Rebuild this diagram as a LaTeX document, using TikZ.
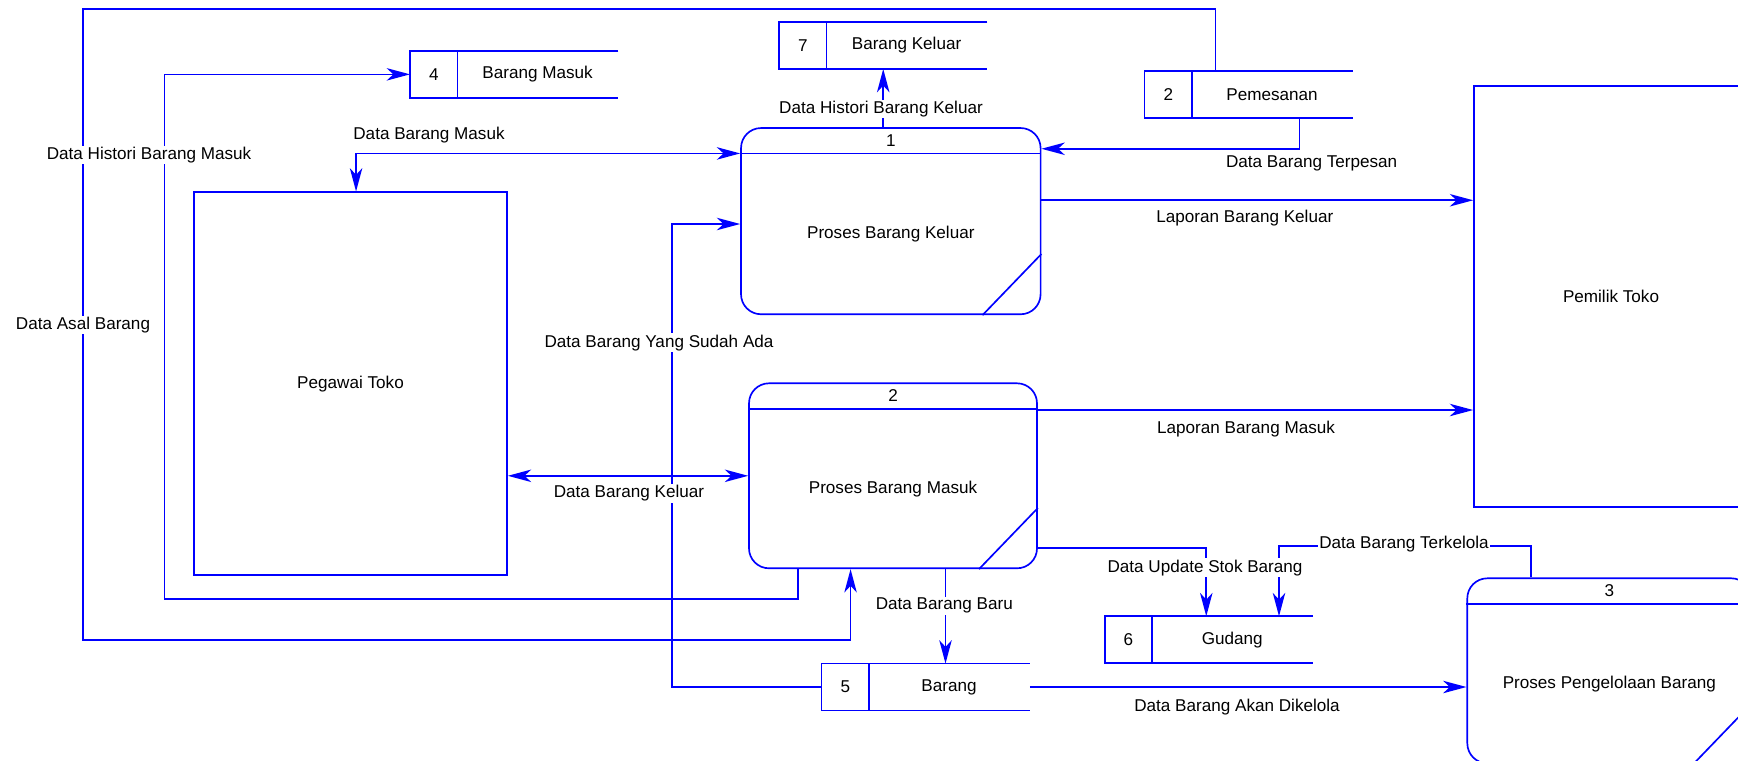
\documentclass[tikz,border=0pt]{standalone}
\usepackage{fontspec}
\setmainfont{Liberation Sans}
\usetikzlibrary{arrows.meta}
\definecolor{dfdblue}{RGB}{0,0,255}
\tikzset{
  edge/.style={dfdblue, line width=0.75pt},
  flow/.style={edge, -{Stealth[length=10.5pt,width=5.6pt,inset=3pt]}},
  bothflow/.style={edge, {Stealth[length=10.5pt,width=5.6pt,inset=3pt]}-{Stealth[length=10.5pt,width=5.6pt,inset=3pt]}},
  entity/.style={draw=dfdblue, line width=0.75pt, rectangle, inner sep=0pt},
  proc/.style={draw=dfdblue, line width=0.75pt, rounded corners=9pt, rectangle, inner sep=0pt},
  store/.style={rectangle, minimum width=93.4pt, minimum height=20.7pt, anchor=west, inner sep=0pt},
  lbl/.style={fill=white, inner sep=0.6pt},
}
\begin{document}
\begin{tikzpicture}[x=0.45pt, y=-0.45pt, font=\fontsize{7.7}{9}\selectfont]
\useasboundingbox (0,0) rectangle (1738,760);
\clip (0,0) rectangle (1738,760);

% external entities
\node[entity, minimum width=140.85pt, minimum height=172.2pt] (peg) at (350.5,383.65) {Pegawai Toko};
\node[entity, minimum width=123.3pt, minimum height=189.7pt] (pem) at (1611,296.5) {Pemilik Toko};

% processes
\node[proc, minimum width=134.8pt, minimum height=83.8pt] (p1) at (890.8,221.15) {};
\draw[edge] ([yshift=-11.8pt]p1.north west) -- ([yshift=-11.8pt]p1.north east);
\draw[edge] ([yshift=27.5pt]p1.south east) -- ([xshift=-26.5pt]p1.south east);
\node (p1n) at ([yshift=-6pt]p1.north) {1};
\node (p1t) at ([yshift=-6pt]p1.center) {Proses Barang Keluar};

\node[proc, minimum width=129.6pt, minimum height=83.25pt] (p2) at (893,475.8) {};
\draw[edge] ([yshift=-11.8pt]p2.north west) -- ([yshift=-11.8pt]p2.north east);
\draw[edge] ([yshift=27.5pt]p2.south east) -- ([xshift=-26.5pt]p2.south east);
\node (p2n) at ([yshift=-6pt]p2.north) {2};
\node (p2t) at ([yshift=-6pt]p2.center) {Proses Barang Masuk};

\node[proc, minimum width=127.8pt, minimum height=83.25pt] (p3) at (1609.3,670.8) {};
\draw[edge] ([yshift=-11.8pt]p3.north west) -- ([yshift=-11.8pt]p3.north east);
\draw[edge] ([yshift=27.5pt]p3.south east) -- ([xshift=-26.5pt]p3.south east);
\node (p3n) at ([yshift=-6pt]p3.north) {3};
\node (p3t) at ([yshift=-6pt]p3.center) {Proses Pengelolaan Barang};

% data stores
\node[store] (s4) at (410,74.35) {};
\draw[edge] (s4.north east) -- (s4.north west) -- (s4.south west) -- (s4.south east)
  ([xshift=21.4pt]s4.north west) -- ([xshift=21.4pt]s4.south west);
\node (s4n) at ([xshift=10.7pt]s4.west) {4};
\node (s4t) at ([xshift=57.4pt]s4.west) {Barang Masuk};

\node[store] (s7) at (779,45.5) {};
\draw[edge] (s7.north east) -- (s7.north west) -- (s7.south west) -- (s7.south east)
  ([xshift=21.4pt]s7.north west) -- ([xshift=21.4pt]s7.south west);
\node (s7n) at ([xshift=10.7pt]s7.west) {7};
\node (s7t) at ([xshift=57.4pt]s7.west) {Barang Keluar};

\node[store] (s2) at (1144.5,94.7) {};
\draw[edge] (s2.north east) -- (s2.north west) -- (s2.south west) -- (s2.south east)
  ([xshift=21.4pt]s2.north west) -- ([xshift=21.4pt]s2.south west);
\node (s2n) at ([xshift=10.7pt]s2.west) {2};
\node (s2t) at ([xshift=57.4pt]s2.west) {Pemesanan};

\node[store] (s6) at (1104.7,639.7) {};
\draw[edge] (s6.north east) -- (s6.north west) -- (s6.south west) -- (s6.south east)
  ([xshift=21.4pt]s6.north west) -- ([xshift=21.4pt]s6.south west);
\node (s6n) at ([xshift=10.7pt]s6.west) {6};
\node (s6t) at ([xshift=57.4pt]s6.west) {Gudang};

\node[store] (s5) at (821.5,687) {};
\draw[edge] (s5.north east) -- (s5.north west) -- (s5.south west) -- (s5.south east)
  ([xshift=21.4pt]s5.north west) -- ([xshift=21.4pt]s5.south west);
\node (s5n) at ([xshift=10.7pt]s5.west) {5};
\node (s5t) at ([xshift=57.4pt]s5.west) {Barang};

% data flows
\coordinate (asal1) at (83,9);
\coordinate (asal2) at (83,640.3);
\draw[flow] ([xshift=-15pt]s2.north) |- (asal1) -- (asal2) -| ([xshift=-19.1pt]p2.south);

\coordinate (hm1) at (164.6,599.3);
\draw[flow] ([xshift=-42.8pt]p2.south) |- (hm1) |- (s4.west);

\draw[bothflow] ([yshift=-11.8pt]p1.north west) -| ([xshift=2.5pt]peg.north);

\coordinate (ya) at (672.3,224);
\draw[flow] (s5.west) -| (ya) -- (ya -| p1.west);

\draw[bothflow] (p2.west) -- (peg.east |- p2.west);

\draw[flow] (p1.north -| s7.south) -- (s7.south);

\draw[flow] ([xshift=22.8pt]s2.south) |- ([yshift=-9.7pt]p1.north east);

\coordinate (lk) at ([yshift=9.4pt]p1.east);
\draw[flow] (lk) -- (lk -| pem.west);

\coordinate (lm) at ([yshift=-12.4pt]p2.north east);
\draw[flow] (lm) -- (lm -| pem.west);

\draw[flow] ([yshift=9.45pt]p2.south east) -| ([xshift=-1.2pt]s6.north);

\coordinate (tk) at (1279,546);
\draw[flow] ([xshift=-35.2pt]p3.north) |- (tk) -- (tk |- s6.north);

\coordinate (bb) at ([xshift=8.9pt]s5.north);
\draw[flow] (bb |- p2.south) -- (bb);

\draw[flow] (s5.east) -- (s5.east -| p3.west);

% flow labels
\node[lbl] (lasal) at (83,325) {Data Asal Barang};
\node[lbl] (lhm) at (149,155) {Data Histori Barang Masuk};
\node[lbl] (lbm) at (429,135) {Data Barang Masuk};
\node[lbl] (lya) at (659,342.7) {Data Barang Yang Sudah Ada};
\node[lbl] (lbk) at (629,493.3) {Data Barang Keluar};
\node[lbl] (lhk) at (881,109) {Data Histori Barang Keluar};
\node[lbl] (lter) at (1311.6,163.3) {Data Barang Terpesan};
\node[lbl] (llk) at (1244.8,217.7) {Laporan Barang Keluar};
\node[lbl] (llm) at (1246,429.3) {Laporan Barang Masuk};
\node[lbl] (lus) at (1205,567.7) {Data Update Stok Barang};
\node[lbl] (ltk) at (1404,544.3) {Data Barang Terkelola};
\node[lbl] (lbb) at (944.3,605.7) {Data Barang Baru};
\node[lbl] (lad) at (1237,706.7) {Data Barang Akan Dikelola};
\end{tikzpicture}
\end{document}
